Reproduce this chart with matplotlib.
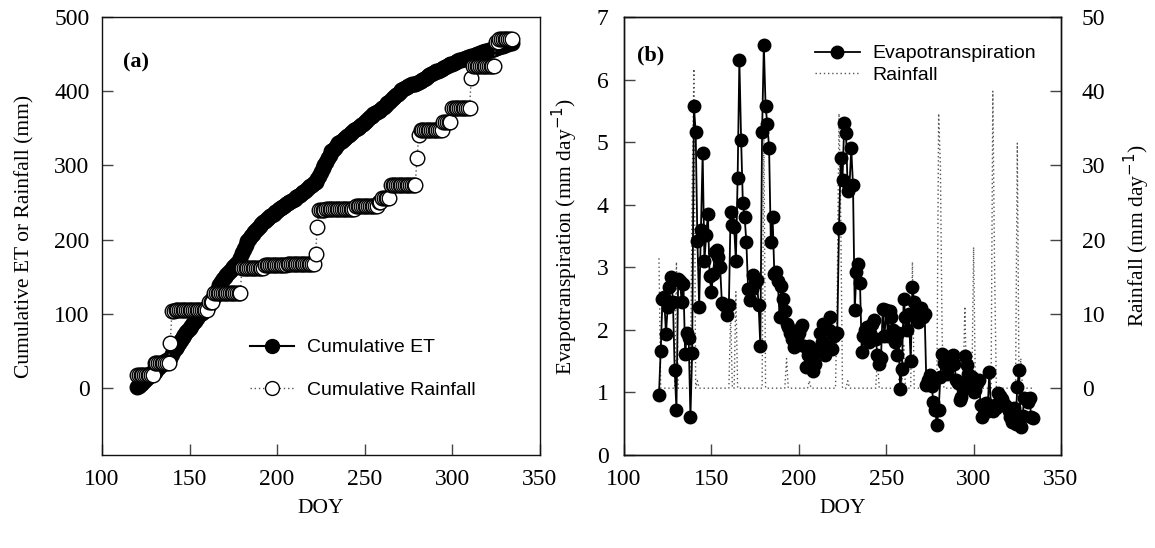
import numpy as np
import matplotlib
matplotlib.use("Agg")
import matplotlib.pyplot as plt
from matplotlib.lines import Line2D

# day of year, one value per day
doy = np.arange(120, 335)

# daily evapotranspiration (mm/day)
et = [
    0.96, 1.67, 2.49, 2.52, 1.93, 2.37, 2.69, 2.84, 2.45, 1.36,
    0.72, 2.82, 2.78, 2.45, 2.73, 1.61, 1.95, 1.87, 0.61, 1.63,
    5.57, 5.17, 3.42, 2.36, 3.60, 4.82, 3.10, 3.51, 3.85, 2.86,
    2.60, 2.90, 3.25, 3.28, 3.17, 3.00, 2.43, 2.40, 2.40, 2.23,
    2.40, 3.89, 3.68, 3.65, 3.10, 4.42, 6.31, 5.04, 4.02, 3.81,
    3.40, 2.65, 2.48, 2.65, 2.88, 2.75, 2.80, 2.40, 1.74, 5.16,
    6.56, 5.57, 5.29, 4.91, 3.40, 3.81, 2.90, 2.93, 2.78, 2.20,
    2.70, 2.50, 2.30, 2.10, 2.05, 1.95, 1.85, 1.72, 1.75, 1.90,
    1.95, 2.05, 2.08, 1.75, 1.40, 1.60, 1.75, 1.50, 1.35, 1.45,
    1.65, 1.70, 1.95, 1.80, 2.10, 1.60, 1.75, 2.00, 2.20, 1.70,
    1.90, 1.95, 1.95, 3.63, 4.75, 4.40, 5.30, 5.15, 4.22, 4.30,
    4.90, 4.32, 2.32, 2.93, 3.05, 2.75, 1.65, 1.90, 2.00, 2.05,
    1.80, 1.95, 2.10, 2.15, 1.85, 1.60, 1.45, 1.55, 2.33, 1.90,
    2.32, 1.90, 2.30, 2.20, 2.00, 1.80, 1.60, 1.95, 1.05, 1.38,
    2.50, 2.20, 2.00, 2.25, 1.50, 2.68, 2.45, 2.25, 2.12, 2.20,
    2.35, 2.21, 2.25, 1.12, 1.20, 1.28, 1.10, 0.85, 0.72, 0.48,
    0.72, 1.25, 1.62, 1.47, 1.55, 1.30, 1.57, 1.44, 1.60, 1.45,
    1.20, 1.15, 0.88, 0.92, 1.05, 1.58, 1.44, 1.30, 1.20, 1.25,
    1.00, 1.04, 1.15, 1.20, 0.80, 0.61, 0.75, 0.83, 0.70, 1.33,
    0.72, 0.70, 0.80, 0.75, 0.99, 0.95, 0.90, 0.83, 0.80, 0.77,
    0.70, 0.61, 0.53, 0.75, 0.50, 1.09, 1.36, 0.45, 0.62, 0.91,
    0.90, 0.85, 0.91, 0.60, 0.59,
]

# rain events (all other days are dry)
rain_days = [120, 130, 139, 140, 142, 161, 164, 180, 193, 206, 222, 223, 224,
             228, 245, 258, 260, 265, 280, 281, 282, 295, 300, 311, 312, 325, 327]
rain_mm = [17.5, 17, 27, 43, 1, 10, 13, 34, 4, 1, 13, 37, 23,
           1, 4, 5, 6, 17, 37, 30, 7, 11, 19, 40, 16, 33, 4]

rain = np.zeros(len(doy))
for d, r in zip(rain_days, rain_mm):
    rain[d - doy[0]] = r

cum_et = np.cumsum(et)
cum_rain = np.cumsum(rain)

serif = "Liberation Serif"
sans = "Liberation Sans"
tick_fs = 17
label_fs = 15.5
dots = (0, (1, 2))

fig = plt.figure(figsize=(11.55, 5.48), dpi=100)
W, H = 1155, 548
ax1 = fig.add_axes([102 / W, (H - 455) / H, 437.5 / W, 438 / H])
ax2 = fig.add_axes([624 / W, (H - 455) / H, 437 / W, 438 / H])
ax3 = ax2.twinx()
ax2.set_zorder(ax3.get_zorder() + 1)
ax2.patch.set_visible(False)

# ---- panel (a)
ax1.plot(doy, cum_et, "-o", color="black", lw=1.5, ms=10.5, mfc="black", mec="black", zorder=2)
ax1.plot(doy, cum_rain, linestyle=dots, color="#555555", lw=1, marker="o",
         ms=10.5, mfc="white", mec="black", mew=1, zorder=3)
ax1.set_xlim(100, 350)
ax1.set_ylim(-90, 500)
ax1.set_yticks([0, 100, 200, 300, 400, 500])
ax1.set_xticks([100, 150, 200, 250, 300, 350])
ax1.set_ylabel("Cumulative ET or Rainfall (mm)", fontfamily=serif, fontsize=label_fs)
ax1.set_xlabel("DOY", fontfamily=serif, fontsize=label_fs)
ax1.text(0.047, 0.897, "(a)", transform=ax1.transAxes, fontfamily=serif,
         fontweight="bold", fontsize=16, va="center", ha="left")

h_et = Line2D([], [], color="black", lw=1.5, marker="o", ms=10, mfc="black", mec="black")
h_rn = Line2D([], [], color="#555555", lw=1, linestyle=dots, marker="o", ms=10,
              mfc="white", mec="black")
ax1.legend([h_et, h_rn], ["Cumulative ET", "Cumulative Rainfall"], loc="center left",
           bbox_to_anchor=(0.3376, 0.1966), frameon=False, prop={"family": sans, "size": 14},
           handlelength=2.3, handletextpad=0.65, labelspacing=1.29, borderpad=0, borderaxespad=0)

# ---- panel (b)
ax3.plot(doy, rain, linestyle=dots, color="#555555", lw=1)
ax2.plot(doy, et, "-o", color="black", lw=1.3, ms=9, mfc="black", mec="black")
ax2.set_xlim(100, 350)
ax2.set_ylim(0, 7)
ax3.set_ylim(-9, 50)
ax2.set_xticks([100, 150, 200, 250, 300, 350])
ax2.set_yticks(range(0, 8))
ax3.set_yticks(range(0, 51, 10))
ax2.set_xlabel("DOY", fontfamily=serif, fontsize=label_fs)
ax2.set_ylabel("Evapotranspiration (mm day$^{-1}$)", fontfamily=serif, fontsize=label_fs)
ax3.set_ylabel("Rainfall (mm day$^{-1}$)", fontfamily=serif, fontsize=label_fs)
ax2.text(0.029, 0.913, "(b)", transform=ax2.transAxes, fontfamily=serif,
         fontweight="bold", fontsize=16, va="center", ha="left")

h_et2 = Line2D([], [], color="black", lw=1.3, marker="o", ms=9, mfc="black", mec="black")
h_rn2 = Line2D([], [], color="#555555", lw=1, linestyle=dots)
ax2.legend([h_et2, h_rn2], ["Evapotranspiration", "Rainfall"], loc="center left",
           bbox_to_anchor=(0.437, 0.892), frameon=False, prop={"family": sans, "size": 14},
           handlelength=2.3, handletextpad=0.65, labelspacing=0.2, borderpad=0, borderaxespad=0)

for ax in (ax1, ax2, ax3):
    for s in ax.spines.values():
        s.set_linewidth(1)
        s.set_color("#111111")
    ax.tick_params(direction="in", length=8, width=1, color="#444444", labelsize=tick_fs)
    for lab in ax.get_xticklabels() + ax.get_yticklabels():
        lab.set_fontfamily(serif)

ax1.tick_params(axis="x", pad=10)
ax2.tick_params(axis="x", pad=10)
ax1.tick_params(axis="y", pad=9)
ax2.tick_params(axis="y", pad=11)
ax3.tick_params(axis="y", pad=15)

ax1.xaxis.set_label_coords(0.5, -0.10)
ax2.xaxis.set_label_coords(0.5, -0.10)
ax1.yaxis.set_label_coords(-0.155, 0.5)
ax2.yaxis.set_label_coords(-0.10, 0.5)
ax3.yaxis.set_label_coords(1.14, 0.5)

fig.savefig("out.png", dpi=100)
